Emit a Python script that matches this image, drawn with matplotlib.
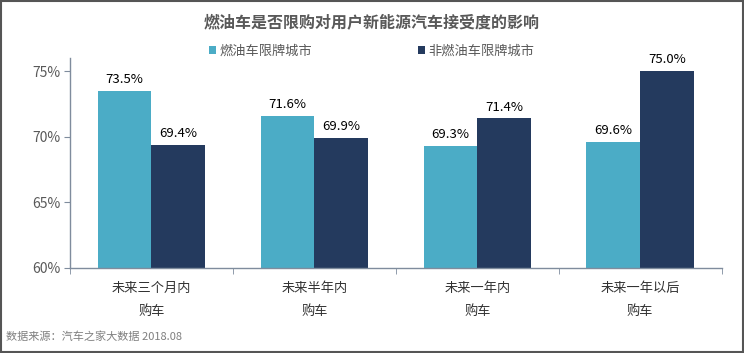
import matplotlib.pyplot as plt
import numpy as np
from matplotlib.patches import Rectangle

plt.rcParams['font.family'] = ['Noto Sans CJK SC', 'DejaVu Sans']

categories = ['未来三个月内\n购车', '未来半年内\n购车', '未来一年内\n购车', '未来一年以后\n购车']
limited = [73.5, 71.6, 69.3, 69.6]
unlimited = [69.4, 69.9, 71.4, 75.0]
series_names = ['燃油车限牌城市', '非燃油车限牌城市']
colors = ['#4bacc6', '#243a5e']

fig = plt.figure(figsize=(7.44, 3.53), dpi=100)
ax = fig.add_axes([0.094, 0.241, 0.876, 0.595])

x = np.arange(len(categories))
w = 0.33
b1 = ax.bar(x - w / 2, limited, w, color=colors[0], label=series_names[0])
b2 = ax.bar(x + w / 2, unlimited, w, color=colors[1], label=series_names[1])

for bars, vals in ((b1, limited), (b2, unlimited)):
    for bar, v in zip(bars, vals):
        ax.text(bar.get_x() + bar.get_width() / 2, v + 0.35, f'{v:.1f}%',
                ha='center', va='bottom', fontsize=9.5, color='#000000')

ax.set_ylim(60, 76)
ax.set_xlim(-0.5, len(categories) - 0.5)
ax.set_yticks([60, 65, 70, 75])
ax.set_yticklabels(['60%', '65%', '70%', '75%'])
ax.set_xticks(x)
ax.set_xticklabels(categories, linespacing=2.0)
ax.set_xticks(np.arange(-0.5, len(categories)), minor=True)
ax.tick_params(axis='x', which='major', length=0, pad=10, labelsize=9.5, colors='#333333')
ax.tick_params(axis='x', which='minor', length=4, direction='out', color='#7f8c9d')
ax.tick_params(axis='y', length=4, direction='out', color='#7f8c9d', labelsize=10, labelcolor='#595959', pad=3)

for s in ('top', 'right'):
    ax.spines[s].set_visible(False)
for s in ('left', 'bottom'):
    ax.spines[s].set_color('#7f8c9d')
    ax.spines[s].set_linewidth(1)

fig.text(0.5, 0.937, '燃油车是否限购对用户新能源汽车接受度的影响', ha='center', va='center',
         fontsize=11.5, fontweight='bold', color='#595959')

leg = fig.legend(handles=[b1, b2], loc='center', bbox_to_anchor=(0.5, 0.855), ncol=2,
                 frameon=False, fontsize=9.5, handlelength=0.5, handleheight=0.5,
                 handletextpad=0.3, columnspacing=8)
for t in leg.get_texts():
    t.set_color('#595959')

fig.text(0.008, 0.045, '数据来源：汽车之家大数据 2018.08', ha='left', va='center',
         fontsize=8, color='#7f7f7f')

fig.patches.append(Rectangle((0.001, 0.002), 0.997, 0.995, transform=fig.transFigure,
                             fill=False, edgecolor='#555555', linewidth=1.5))

fig.savefig('out.png', dpi=100)
